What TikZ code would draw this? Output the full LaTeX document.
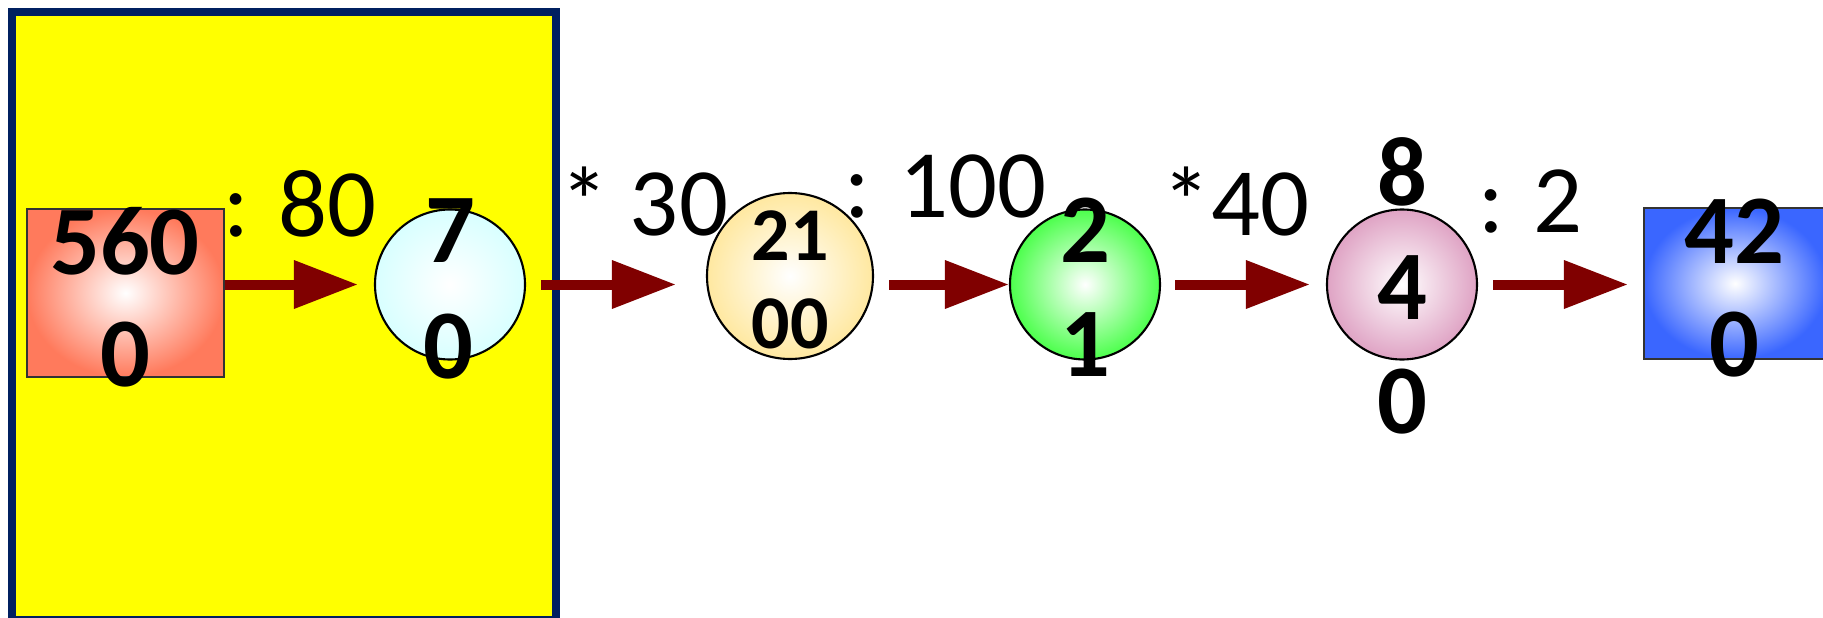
\documentclass[tikz,border=0pt]{standalone}
\usepackage{fontspec}
\setmainfont{Carlito}
\usepackage{tikz}
\usetikzlibrary{arrows.meta}

\definecolor{framenavy}{HTML}{002060}
\definecolor{frameyellow}{RGB}{255,255,0}
\definecolor{arrowred}{HTML}{800000}
\definecolor{coral}{HTML}{FF7A5C}
\definecolor{icecyan}{HTML}{D8FFFF}
\definecolor{cream}{HTML}{FFE8A0}
\definecolor{lime}{HTML}{4CFF4C}
\definecolor{rose}{HTML}{DFA3C4}
\definecolor{royal}{HTML}{3A66FF}

\begin{document}
\begin{tikzpicture}[
  num/.style={font=\fontsize{28}{28}\selectfont\bfseries},
  smallnum/.style={font=\fontsize{21.6}{22}\selectfont\bfseries},
  lab/.style={font=\fontsize{27.5}{28}\selectfont},
  ball/.style={circle,draw=black,line width=0.6pt,inner sep=0pt,minimum size=1.5cm,shading=radial,inner color=white},
  box/.style={rectangle,draw=black!80,line width=0.6pt,inner sep=0pt,shading=radial,inner color=white},
  arr/.style={draw=arrowred,line width=0.1cm,-{Triangle[length=0.64cm,width=0.46cm]}}
]
\clip (0,0) rectangle (18.23,6.17);

\draw[framenavy,fill=frameyellow,line width=0.08cm] (0.119,-0.03) rectangle (5.555,6.051);

% shapes
\node[box,outer color=coral,minimum width=1.97cm,minimum height=1.68cm] (start) at (1.255,3.24) {};
\node[ball,outer color=icecyan] (c1) at (4.50,3.325) {};
\node[ball,outer color=cream,minimum size=1.66cm] (c2) at (7.90,3.41) {};
\node[ball,outer color=lime] (c3) at (10.85,3.325) {};
\node[ball,outer color=rose] (c4) at (14.02,3.325) {};
\node[box,outer color=royal,minimum width=1.82cm,minimum height=1.51cm] (goal) at (17.35,3.335) {};

% arrows
\draw[arr,shorten >=0.16cm] (start.east |- c1) -- (c1);
\draw[arr,shorten <=0.15cm,shorten >=0.30cm] (c1.east) -- (c1.east -| c2.west);
\draw[arr,shorten <=0.15cm] (c2.east |- c3) -- (c3);
\draw[arr,shorten <=0.14cm,shorten >=0.16cm] (c3) -- (c4);
\draw[arr,shorten <=0.15cm,shorten >=0.15cm] (c4.east) -- (c4.east -| goal.west);

% numbers
\node[num] (n560) at (1.25,3.76) {560};
\node[num] (n0a) at (1.25,2.62) {0};
\node[num] (n7) at (4.50,3.86) {7};
\node[num] (n0b) at (4.48,2.70) {0};
\node[smallnum] (n21) at (7.90,3.81) {21};
\node[smallnum] (n00) at (7.90,2.93) {00};
\node[num] (n2) at (10.85,3.87) {2};
\node[num] (n1) at (10.85,2.72) {1};
\node[num] (n8) at (14.02,4.45) {8};
\node[num] (n4) at (14.02,3.29) {4};
\node[num] (n0c) at (14.02,2.15) {0};
\node[num] (n42) at (17.34,3.86) {42};
\node[num] (n0d) at (17.34,2.72) {0};

% operations
\node[lab] (op1) at (3.00,4.13) {: 80};
\node[lab] (op2) at (6.44,4.15) {* 30};
\node[lab] (op3) at (9.45,4.30) {: 100};
\node[lab] (op4) at (12.36,4.15) {*40};
\node[lab] (op5) at (15.30,4.15) {: 2};
\end{tikzpicture}
\end{document}
